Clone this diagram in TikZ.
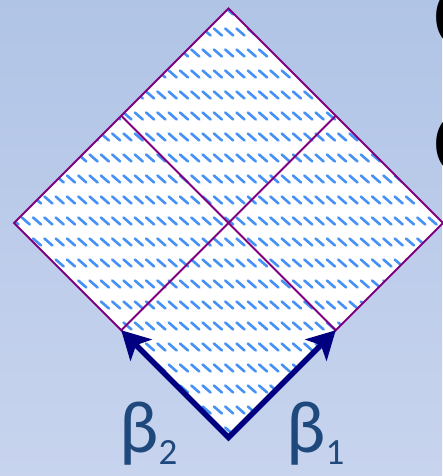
\documentclass[tikz,border=0pt]{standalone}
\usepackage{fontspec}
\newfontfamily\calib{Carlito}
\newcommand\bsubfont{\calib\fontsize{37}{37}\selectfont}
\usetikzlibrary{arrows.meta}
\definecolor{bgtop}{RGB}{176,196,230}
\definecolor{bgbot}{RGB}{200,212,238}
\definecolor{gridline}{RGB}{128,0,128}
\definecolor{hatch}{RGB}{70,145,245}
\definecolor{vecblue}{RGB}{0,0,128}
\definecolor{labblue}{RGB}{31,73,125}
\tikzset{
  vec/.style={{Stealth[length=28pt,width=30pt,inset=7pt]}-{Stealth[length=28pt,width=30pt,inset=7pt]},
              line width=5.5pt, draw=vecblue, line join=miter},
  cell/.style={draw=gridline, line width=2pt},
  hatchline/.style={draw=hatch, line width=2.6pt, line cap=round},
  blab/.style={text=labblue, font=\calib\fontsize{74}{74}\selectfont,
               inner sep=0pt, anchor=base west},
  bigc/.style={text=black, font=\calib\fontsize{95}{95}\selectfont,
               inner sep=0pt, anchor=west},
}

\begin{document}
\begin{tikzpicture}[x=1pt, y=-1pt]

\useasboundingbox (0,0) rectangle (442,476);
\shade[top color=bgtop, bottom color=bgbot] (0,0) rectangle (442,476);

% corners of the big diamond
\coordinate (top)   at (228.5, 8.5);
\coordinate (right) at (443, 223);
\coordinate (bot)   at (228.5, 437.5);
\coordinate (left)  at (14, 223);
% edge midpoints
\coordinate (ltmid) at (121.25, 115.75);
\coordinate (rtmid) at (335.75, 115.75);
\coordinate (lbmid) at (121.25, 330.25);
\coordinate (rbmid) at (335.75, 330.25);

% hatched fill
\begin{scope}
  \clip (top) -- (right) -- (bot) -- (left) -- cycle;
  \fill[white] (top) -- (right) -- (bot) -- (left) -- cycle;
  \foreach \r in {0,...,20}
    \foreach \c in {0,...,38}
      \draw[hatchline] ({10.5+11.3*\c}, {7.5+21*\r}) -- ++(8,7);
\end{scope}

% cell borders
\draw[cell] (top) -- (right) -- (bot) -- (left) -- cycle;
\draw[cell] (ltmid) -- (rbmid);
\draw[cell] (rtmid) -- (lbmid);

% basis vectors
\draw[vec] (lbmid) -- (bot) -- (rbmid);

\node[blab] (b2) at (119, 452) {β\raisebox{-12pt}{\bsubfont 2}};
\node[blab] (b1) at (286, 452) {β\raisebox{-12pt}{\bsubfont 1}};

% text cut off at the right edge
\node[bigc] (c1) at (433, 17)  {C};
\node[bigc] (c2) at (433, 144) {C};
\end{tikzpicture}
\end{document}
